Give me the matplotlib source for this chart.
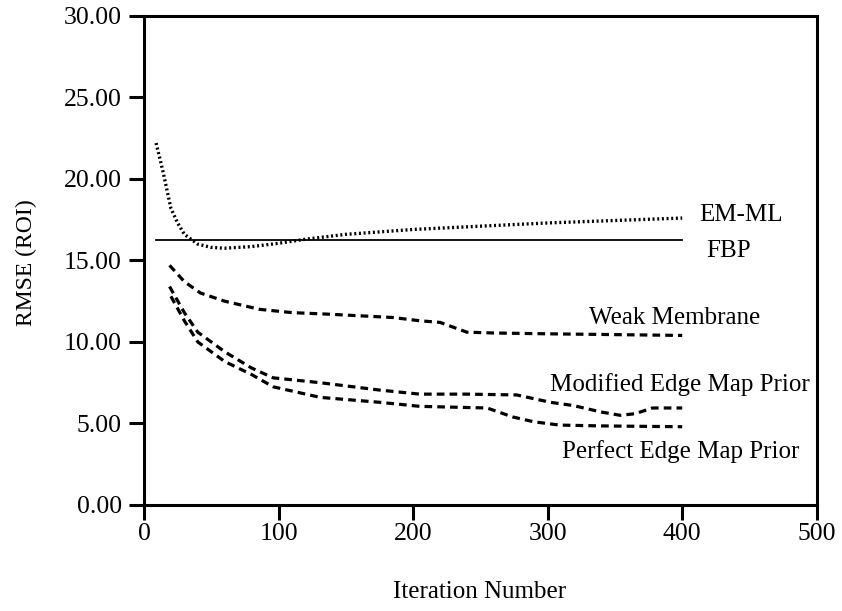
import matplotlib.pyplot as plt

plt.rcParams['font.family'] = 'Liberation Serif'

# EM-ML (dotted)
em_iter = [9, 14, 20, 25, 30, 40, 50, 60, 70, 80, 100, 120, 150, 200, 250, 300, 350, 400]
em_rmse = [22.2, 20.5, 18.2, 17.3, 16.6, 16.0, 15.8, 15.75, 15.8, 15.85, 16.05, 16.3, 16.6, 16.9, 17.1, 17.3, 17.45, 17.6]

# FBP (flat reference)
fbp_iter = [9, 400]
fbp_rmse = [16.25, 16.25]

# Weak Membrane
wm_iter = [19, 30, 42, 60, 86, 110, 138, 185, 205, 220, 230, 240, 260, 300, 350, 400]
wm_rmse = [14.7, 13.7, 13.0, 12.5, 12.0, 11.8, 11.7, 11.5, 11.3, 11.2, 10.9, 10.6, 10.55, 10.5, 10.45, 10.4]

# Modified Edge Map Prior
mod_iter = [19, 30, 40, 60, 80, 96, 131, 175, 205, 240, 277, 302, 319, 340, 354, 365, 378, 400]
mod_rmse = [13.4, 11.8, 10.6, 9.4, 8.4, 7.8, 7.5, 7.05, 6.8, 6.8, 6.75, 6.3, 6.1, 5.7, 5.5, 5.6, 5.95, 5.95]

# Perfect Edge Map Prior
per_iter = [20, 30, 40, 60, 80, 96, 131, 175, 205, 255, 274, 290, 309, 340, 400]
per_rmse = [12.8, 11.3, 10.0, 8.8, 8.0, 7.25, 6.6, 6.3, 6.05, 5.95, 5.4, 5.1, 4.9, 4.85, 4.8]

fig = plt.figure(figsize=(8.42, 6.11), dpi=100)
ax = fig.add_axes([0.171, 0.1735, 0.799, 0.8005])

ax.plot(em_iter, em_rmse, color='black', lw=2.4, linestyle=(0, (0.6, 0.8)))
ax.plot(fbp_iter, fbp_rmse, color='black', lw=1.3)
ax.plot(wm_iter, wm_rmse, color='black', lw=2.3, linestyle=(0, (2.4, 1.6)))
ax.plot(mod_iter, mod_rmse, color='black', lw=2.3, linestyle=(0, (2.4, 1.6)))
ax.plot(per_iter, per_rmse, color='black', lw=2.3, linestyle=(0, (2.4, 1.6)))

fs = 18
ax.text(413, 17.8, 'EM-ML', fontsize=fs, va='center')
ax.text(418, 15.6, 'FBP', fontsize=fs, va='center')
ax.text(331, 11.5, 'Weak Membrane', fontsize=fs, va='center')
ax.text(302, 7.4, 'Modified Edge Map Prior', fontsize=fs, va='center')
ax.text(310.5, 3.25, 'Perfect Edge Map Prior', fontsize=fs, va='center')

ax.set_xlim(0, 500)
ax.set_ylim(0, 30)
ax.set_xticks([0, 100, 200, 300, 400, 500])
ax.set_yticks([0, 5, 10, 15, 20, 25, 30])
ax.set_yticklabels(['%.2f' % v for v in [0, 5, 10, 15, 20, 25, 30]])
ax.tick_params(direction='out', length=11, width=2.2, labelsize=18.5)
ax.tick_params(axis='x', pad=2)
ax.tick_params(axis='y', pad=5)

for s in ax.spines.values():
    s.set_linewidth(2.2)

fig.text(0.031, 0.570, 'RMSE (ROI)', rotation=90, fontsize=17, ha='center', va='center')
fig.text(0.569, 0.031, 'Iteration Number', fontsize=18, ha='center', va='center')

plt.savefig('out.png', dpi=100)
